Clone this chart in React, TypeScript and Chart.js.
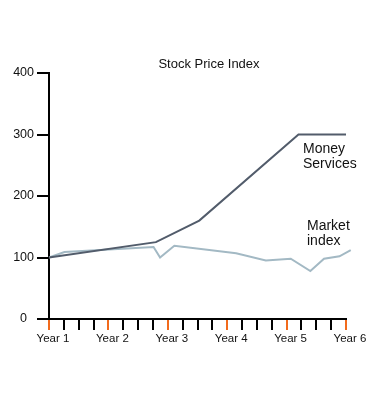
import React, { useEffect, useRef } from "react";
import { Chart, registerables } from "chart.js";

Chart.register(...registerables);

const chartTitle = "Stock Price Index";
const yearLabels = ["Year 1", "Year 2", "Year 3", "Year 4", "Year 5", "Year 6"];
const yTicks = [0, 100, 200, 300, 400];

const moneyYears = [1, 2.8, 3.53, 5.2, 6];
const moneyValues = [100, 125, 160, 300, 300];

const marketYears = [1, 1.26, 2.76, 2.87, 3.11, 4.15, 4.65, 5.07, 5.4, 5.63, 5.89, 6.08];
const marketValues = [100, 109, 117, 100, 119, 107, 95, 98, 78, 98, 102, 112];

const seriesNames = [["Money", "Services"], ["Market", "index"]];

const FONT = "'Liberation Sans', Arial, Helvetica, sans-serif";
const ORANGE = "#f26b1d";
const MONEY_COLOR = "#525c6b";
const MARKET_COLOR = "#a3b9c4";

const textPlugin = {
  id: "textLabels",
  afterDraw(chart: any) {
    const ctx = chart.ctx;
    const area = chart.chartArea;
    ctx.save();
    ctx.fillStyle = "#111";
    ctx.textBaseline = "alphabetic";
    ctx.font = `13px ${FONT}`;
    ctx.textAlign = "center";
    ctx.fillText(chartTitle, area.left + 160, area.top - 5);
    ctx.font = `14px ${FONT}`;
    ctx.textAlign = "left";
    const [money, market] = seriesNames;
    ctx.fillText(money[0], area.left + 254, area.top + 80);
    ctx.fillText(money[1], area.left + 254, area.top + 95);
    ctx.fillText(market[0], area.left + 258, area.top + 157);
    ctx.fillText(market[1], area.left + 258, area.top + 172);
    ctx.restore();
  },
};

export default function App() {
  const ref = useRef<HTMLCanvasElement | null>(null);

  useEffect(() => {
    if (!ref.current) return;
    const chart = new Chart(ref.current, {
      type: "line",
      data: {
        datasets: [
          {
            label: seriesNames[0].join(" "),
            data: moneyYears.map((x, i) => ({ x, y: moneyValues[i] })),
            borderColor: MONEY_COLOR,
            borderWidth: 2,
            pointRadius: 0,
            tension: 0,
            clip: false as any,
          },
          {
            label: seriesNames[1].join(" "),
            data: marketYears.map((x, i) => ({ x, y: marketValues[i] })),
            borderColor: MARKET_COLOR,
            borderWidth: 2,
            pointRadius: 0,
            tension: 0,
            clip: false as any,
          },
        ],
      },
      options: {
        responsive: false,
        animation: false,
        layout: { padding: { left: 0, top: 73, right: 42, bottom: 51 } },
        plugins: { legend: { display: false }, tooltip: { enabled: false }, title: { display: false } },
        scales: {
          x: {
            type: "linear",
            min: 1,
            max: 6,
            afterFit: (s: any) => {
              s.height = 30;
            },
            border: { display: true, color: "#000", width: 2 },
            grid: {
              drawOnChartArea: false,
              drawTicks: true,
              tickLength: 11,
              lineWidth: 2,
              color: (c: any) => (c.tick && Number.isInteger(c.tick.value) ? ORANGE : "#000"),
              tickColor: (c: any) => (c.tick && Number.isInteger(c.tick.value) ? ORANGE : "#000"),
            },
            ticks: {
              stepSize: 0.25,
              autoSkip: false,
              maxRotation: 0,
              padding: 2,
              labelOffset: 4,
              color: "#111",
              font: { family: FONT, size: 11.5 },
              callback: (v: any) => (Number.isInteger(v) ? yearLabels[v - 1] : ""),
            },
          },
          y: {
            min: yTicks[0],
            max: yTicks[yTicks.length - 1],
            afterFit: (s: any) => {
              s.width = 49;
            },
            border: { display: true, color: "#000", width: 2 },
            grid: {
              drawOnChartArea: false,
              drawTicks: true,
              tickLength: 12,
              lineWidth: 2,
              color: "#000",
            },
            ticks: {
              stepSize: 100,
              padding: 3,
              crossAlign: "center",
              color: "#111",
              font: { family: FONT, size: 12.5 },
            },
          },
        },
      },
      plugins: [textPlugin],
    });
    return () => chart.destroy();
  }, []);

  return (
    <div style={{ position: "absolute", left: 0, top: 0, width: 388, height: 400, background: "#fff" }}>
      <canvas ref={ref} width={388} height={400} style={{ display: "block" }} />
    </div>
  );
}
